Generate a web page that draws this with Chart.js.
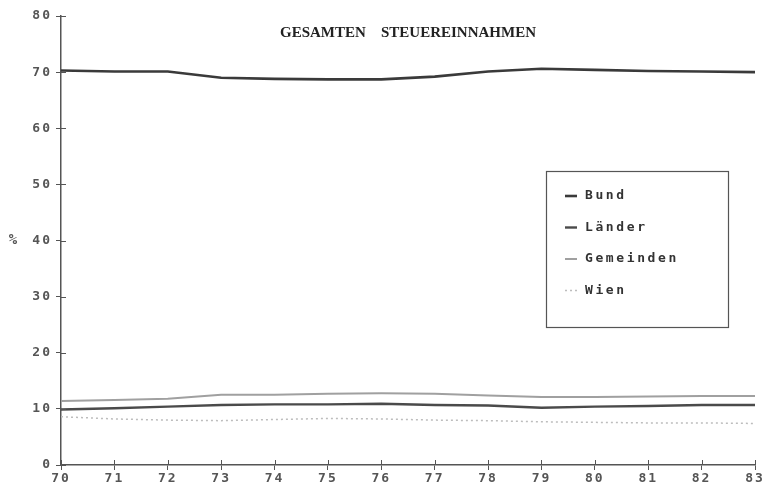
<!DOCTYPE html>
<html>
<head>
<meta charset="utf-8">
<script src="https://cdn.jsdelivr.net/npm/chart.js@4/dist/chart.umd.min.js"></script>
<style>
html,body{margin:0;padding:0;background:#fff}
#wrap{width:764px;height:489px}
</style>
</head>
<body>
<div id="wrap"><canvas id="taxChart" width="764" height="489"></canvas></div>
<script>
const years = [70,71,72,73,74,75,76,77,78,79,80,81,82,83]

const bund =      [70.3,70.1,70.1,69.0,68.8,68.7,68.7,69.2,70.1,70.6,70.4,70.2,70.1,70.0]
const laender =   [9.9,10.1,10.4,10.7,10.8,10.8,10.9,10.7,10.6,10.2,10.4,10.5,10.7,10.7]
const gemeinden = [11.4,11.6,11.8,12.5,12.5,12.7,12.8,12.7,12.4,12.1,12.1,12.2,12.3,12.3]
const wien =      [8.6,8.2,8.0,7.9,8.1,8.3,8.2,8.0,7.9,7.7,7.6,7.5,7.5,7.4]

const seriesNames = ['Bund','Länder','Gemeinden','Wien']
const titleWords = ['GESAMTEN','STEUEREINNAHMEN']
const yAxisLabel = '%'

const monoFont = '"DejaVu Sans Mono", monospace'

function toPoints(values){
  return values.map((v,i)=>({x:years[i], y:v}))
}

// title + "%" + legend box + inner tick marks
const paperPlugin = {
  id:'paper',
  beforeDraw(chart){
    // slightly spaced plotter lettering for the tick labels
    chart.ctx.letterSpacing = '2px'
  },
  afterDraw(chart){
    const ctx = chart.ctx
    const xs = chart.scales.x
    const ys = chart.scales.y

    ctx.save()

    // inner halves of tick marks
    ctx.strokeStyle = '#555'
    ctx.lineWidth = 1
    ctx.beginPath()
    ys.ticks.forEach(t=>{
      const py = Math.round(ys.getPixelForValue(t.value)) + 0.5
      ctx.moveTo(xs.left, py)
      ctx.lineTo(xs.left + 5, py)
    })
    xs.ticks.forEach(t=>{
      const px = Math.round(xs.getPixelForValue(t.value)) + 0.5
      ctx.moveTo(px, ys.bottom)
      ctx.lineTo(px, ys.bottom - 5)
    })
    ctx.stroke()

    // title
    ctx.letterSpacing = '0px'
    ctx.fillStyle = '#222'
    ctx.font = 'bold 15px "Liberation Serif", serif'
    ctx.textAlign = 'left'
    ctx.textBaseline = 'middle'
    ctx.fillText(titleWords[0], 280, 33)
    ctx.fillText(titleWords[1], 381, 33)

    // % label next to 40
    ctx.font = 'bold 14px ' + monoFont
    ctx.fillStyle = '#555'
    ctx.textAlign = 'center'
    ctx.fillText(yAxisLabel, 13, ys.getPixelForValue(40))

    // legend box
    const bx = 546, by = 171, bw = 182, bh = 156
    ctx.strokeStyle = '#555'
    ctx.lineWidth = 1.2
    ctx.strokeRect(bx + 0.5, by + 0.5, bw, bh)

    ctx.textAlign = 'left'
    ctx.font = 'bold 13px ' + monoFont
    ctx.letterSpacing = '2.6px'
    chart.data.datasets.forEach((ds,i)=>{
      const cy = by + 25 + i * 31.5
      ctx.save()
      ctx.strokeStyle = ds.borderColor
      ctx.lineWidth = ds.borderWidth
      ctx.setLineDash(ds.borderDash || [])
      ctx.beginPath()
      ctx.moveTo(bx + 19, cy)
      ctx.lineTo(bx + 31, cy)
      ctx.stroke()
      ctx.restore()
      ctx.fillStyle = '#333'
      ctx.fillText(ds.label, bx + 39, cy)
    })

    ctx.restore()
  }
}

new Chart(document.getElementById('taxChart'), {

  type:'line',

  data:{
    datasets:[
      {
        label:seriesNames[0],
        data:toPoints(bund),
        borderColor:'#3a3a3a',
        borderWidth:2.6,
        pointRadius:0,
        tension:0
      },
      {
        label:seriesNames[1],
        data:toPoints(laender),
        borderColor:'#4a4a4a',
        borderWidth:2.4,
        pointRadius:0,
        tension:0
      },
      {
        label:seriesNames[2],
        data:toPoints(gemeinden),
        borderColor:'#a0a0a0',
        borderWidth:2,
        pointRadius:0,
        tension:0
      },
      {
        label:seriesNames[3],
        data:toPoints(wien),
        borderColor:'#bdbdbd',
        borderWidth:1.5,
        borderDash:[2,3],
        pointRadius:0,
        tension:0
      }
    ]
  },

  options:{
    responsive:false,
    animation:false,
    devicePixelRatio:1,
    layout:{
      padding:{top:16, right:9, left:0, bottom:0}
    },
    plugins:{
      legend:{display:false},
      tooltip:{enabled:false}
    },
    scales:{
      x:{
        type:'linear',
        min:years[0],
        max:years[years.length-1],
        afterFit(scale){ scale.height = 24 },
        border:{display:true, color:'#555', width:1.5},
        grid:{drawOnChartArea:false, drawTicks:true, tickLength:5, color:'#555'},
        ticks:{
          stepSize:1,
          color:'#555',
          padding:1,
          maxRotation:0,
          font:{family:monoFont, size:13, weight:'bold'},
          callback:v=>v
        }
      },
      y:{
        min:0,
        max:80,
        afterFit(scale){ scale.width = 61 },
        border:{display:true, color:'#555', width:1.5},
        grid:{drawOnChartArea:false, drawTicks:true, tickLength:5, color:'#555'},
        ticks:{
          stepSize:10,
          color:'#555',
          padding:4,
          font:{family:monoFont, size:13, weight:'bold'},
          callback:v=>v
        }
      }
    }
  },

  plugins:[paperPlugin]
})
</script>
</body>
</html>
